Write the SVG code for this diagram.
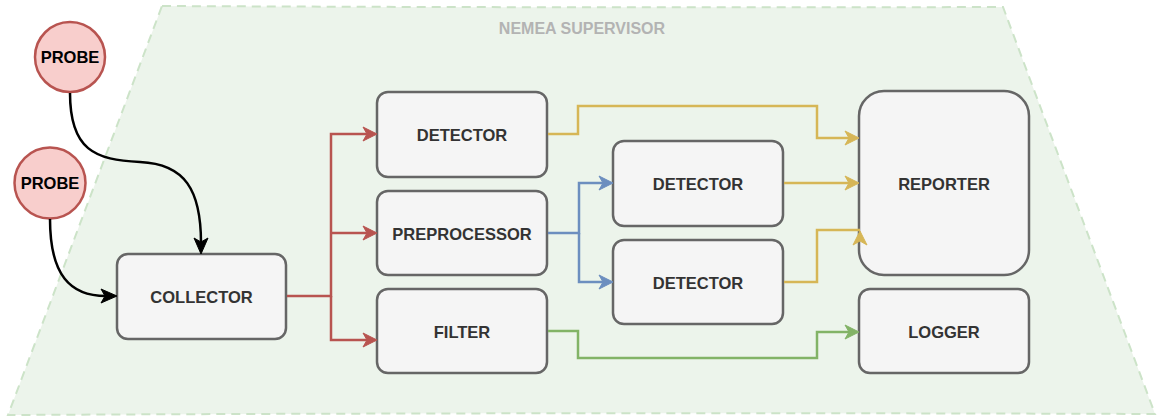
<svg xmlns="http://www.w3.org/2000/svg" width="1157" height="419" viewBox="0 0 1157 419">
<style>
.node{fill:#f5f5f5;stroke:#666666;stroke-width:2.5}
.probe{fill:#f8cecc;stroke:#b85450;stroke-width:2.5}
.lbl{font-family:"Liberation Sans",Arial,sans-serif;font-weight:bold;font-size:16.5px;fill:#333333;text-anchor:middle;dominant-baseline:central}
.plbl{font-family:"Liberation Sans",Arial,sans-serif;font-weight:bold;font-size:16.5px;fill:#000000;text-anchor:middle;dominant-baseline:central}
.e{fill:none;stroke-width:2.5}
.red{stroke:#b85450}.blue{stroke:#6c8ebf}.yel{stroke:#d6b656}.grn{stroke:#82b366}.blk{stroke:#000000}
</style>
<g id="supervisor">
<path d="M162,6 Q580,8 1003,7 L1155,414 Q580,412 8,415 Z" fill="#ecf4eb" stroke="#cce3c8" stroke-width="2" stroke-dasharray="9 6"/>
<text x="582" y="28" class="lbl" style="fill:#b3b3b3;font-size:16px">NEMEA SUPERVISOR</text>
</g>
<g id="probe1"><circle class="probe" cx="70" cy="57" r="35"/><text class="plbl" x="70" y="57">PROBE</text></g>
<g id="probe2"><circle class="probe" cx="50" cy="183" r="35.5"/><text class="plbl" x="50" y="183">PROBE</text></g>
<g id="collector"><rect class="node" x="117" y="254" width="169" height="85" rx="11"/><text class="lbl" x="201.5" y="297">COLLECTOR</text></g>
<g id="detector1"><rect class="node" x="377" y="92" width="170" height="85" rx="11"/><text class="lbl" x="462" y="135">DETECTOR</text></g>
<g id="preprocessor"><rect class="node" x="377" y="191" width="170" height="84" rx="11"/><text class="lbl" x="462" y="234">PREPROCESSOR</text></g>
<g id="filter"><rect class="node" x="377" y="289" width="170" height="84" rx="11"/><text class="lbl" x="462" y="332">FILTER</text></g>
<g id="detector2"><rect class="node" x="613" y="141" width="170" height="85" rx="11"/><text class="lbl" x="698" y="184">DETECTOR</text></g>
<g id="detector3"><rect class="node" x="613" y="240" width="170" height="84" rx="11"/><text class="lbl" x="698" y="283">DETECTOR</text></g>
<g id="reporter"><rect class="node" x="859" y="91" width="170" height="184" rx="25"/><text class="lbl" x="944" y="184">REPORTER</text></g>
<g id="logger"><rect class="node" x="859" y="289" width="170" height="84" rx="11"/><text class="lbl" x="944" y="332">LOGGER</text></g>
<g id="connectors">
<path class="e red" d="M287,296 H331 V134 H368"/>
<path class="e red" d="M331,233 H368"/>
<path class="e red" d="M331,296 V340 H368"/>
<path d="M377,134 L363,127 L367,134 L363,141 Z" fill="#b85450" stroke="#b85450" stroke-width="1"/>
<path d="M377,233 L363,226 L367,233 L363,240 Z" fill="#b85450" stroke="#b85450" stroke-width="1"/>
<path d="M377,340 L363,333 L367,340 L363,347 Z" fill="#b85450" stroke="#b85450" stroke-width="1"/>
<path class="e blue" d="M548,233 H579 V183 H604"/>
<path class="e blue" d="M579,233 V282 H604"/>
<path d="M613,183 L599,176 L603,183 L599,190 Z" fill="#6c8ebf" stroke="#6c8ebf" stroke-width="1"/>
<path d="M613,282 L599,275 L603,282 L599,289 Z" fill="#6c8ebf" stroke="#6c8ebf" stroke-width="1"/>
<path class="e yel" d="M548,134 H578 V106 H817 V138 H850"/>
<path d="M859,138 L845,131 L849,138 L845,145 Z" fill="#d6b656" stroke="#d6b656" stroke-width="1"/>
<path class="e yel" d="M784,183 H850"/>
<path d="M859,183 L845,176 L849,183 L845,190 Z" fill="#d6b656" stroke="#d6b656" stroke-width="1"/>
<path class="e yel" d="M784,282 H817 V230 H860"/>
<path d="M860,231 L853,245 L860,241 L867,245 Z" fill="#d6b656" stroke="#d6b656" stroke-width="1"/>
<path class="e grn" d="M548,331 H578 V358 H817 V332 H850"/>
<path d="M859,332 L845,325 L849,332 L845,339 Z" fill="#82b366" stroke="#82b366" stroke-width="1"/>
<path class="e blk" d="M70,93 C70,150 95,160 140,162 C185,164 201,190 201,243"/>
<path d="M201,254 L194,238 L201,242 L208,238 Z" fill="#000" stroke="#000" stroke-width="1"/>
<path class="e blk" d="M50,219 C50,275 70,296 106,296"/>
<path d="M117,296 L101,289 L105,296 L101,303 Z" fill="#000" stroke="#000" stroke-width="1"/>
</g>
</svg>
